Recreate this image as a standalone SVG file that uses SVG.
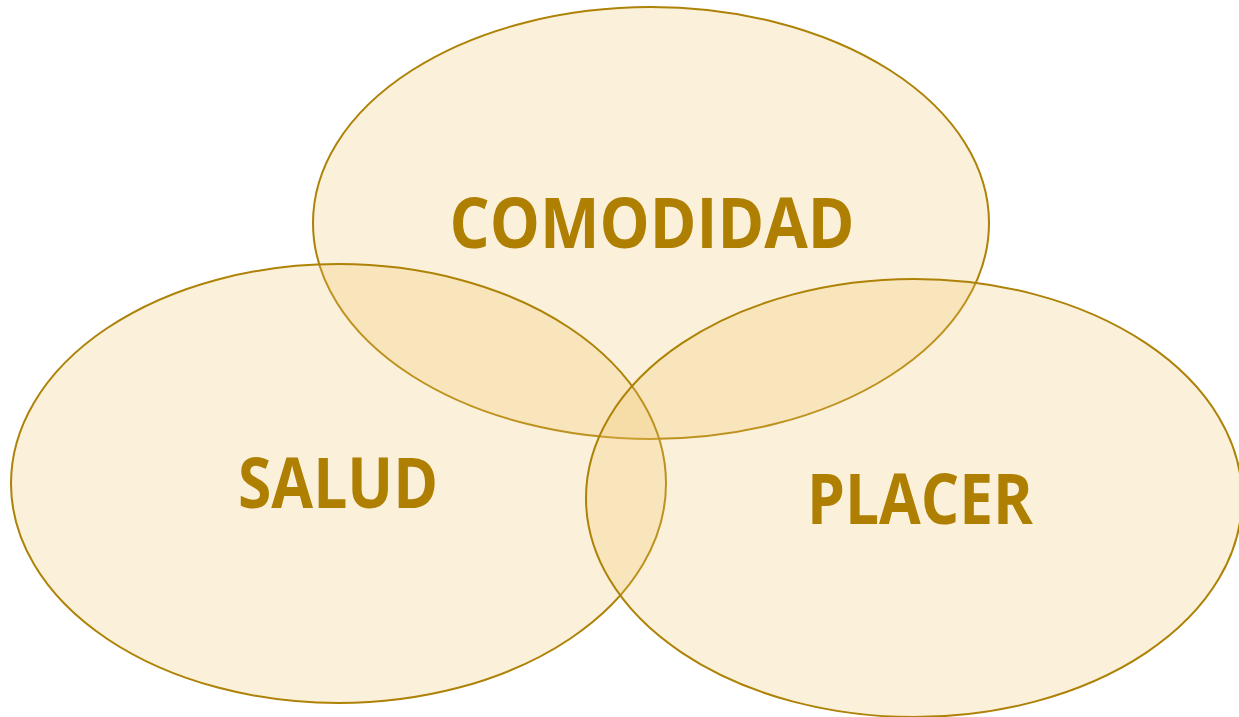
<svg xmlns="http://www.w3.org/2000/svg" width="1239" height="717" viewBox="0 0 1239 717">
<style>
.circ{fill:#EFC367;fill-opacity:0.25;stroke:#AE8206;stroke-width:2}
.lbl{font-family:"Open Sans","Liberation Sans",sans-serif;font-weight:700;font-size:69px;fill:#AE7F00;text-anchor:middle}
</style>
<rect width="1239" height="717" fill="#FFFFFF"/>
<g id="node-comodidad">
<ellipse class="circ" cx="651" cy="223" rx="338" ry="216"/>
</g>
<g id="node-salud">
<ellipse class="circ" cx="338.5" cy="483.5" rx="327.5" ry="219.5"/>
</g>
<g id="node-placer">
<ellipse class="circ" cx="914" cy="498" rx="328" ry="219"/>
</g>
<g id="connectors"></g>
<g id="labels">
<text class="lbl" x="652" y="248" textLength="405" lengthAdjust="spacingAndGlyphs">COMODIDAD</text>
<text class="lbl" x="338" y="508" textLength="200" lengthAdjust="spacingAndGlyphs">SALUD</text>
<text class="lbl" x="920" y="524" textLength="226" lengthAdjust="spacingAndGlyphs">PLACER</text>
</g>
</svg>
